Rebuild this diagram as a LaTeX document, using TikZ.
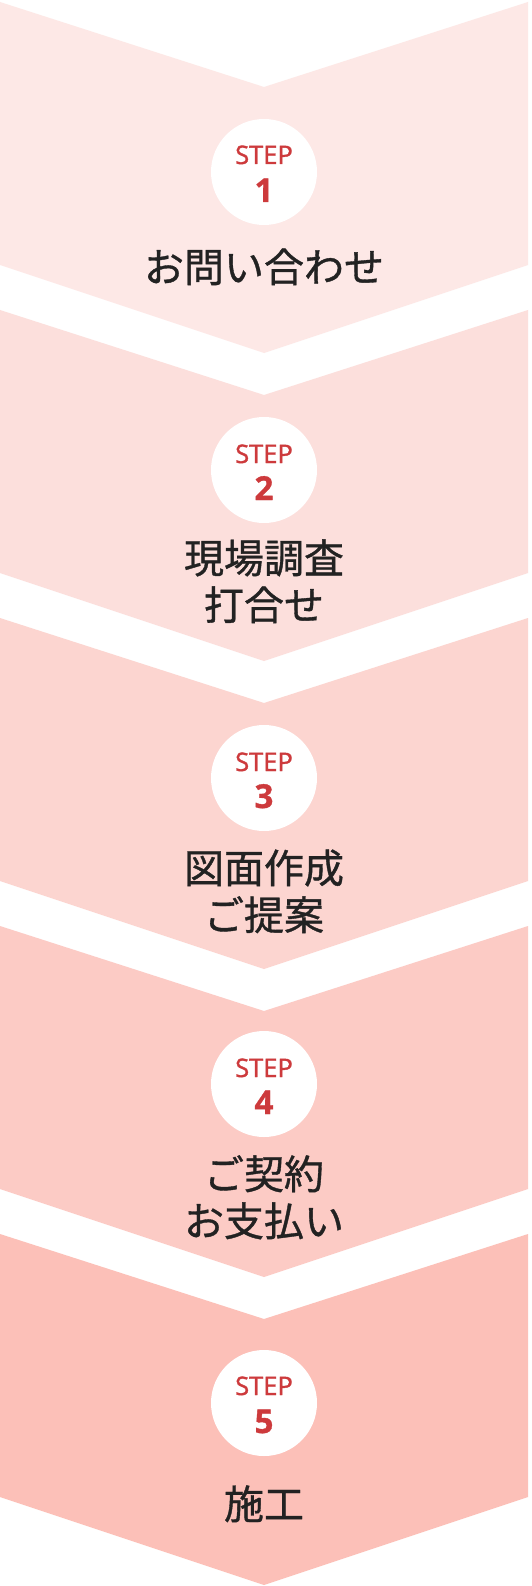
\documentclass[tikz,border=0pt]{standalone}
\usepackage{fontspec}
\setmainfont{Open Sans}
\newfontfamily\jp{Noto Sans CJK JP}[FakeBold=0.9]
\newfontfamily\stepfont{Open Sans}[FakeBold=1.4]
\newfontfamily\numfont{Open Sans}[FakeBold=1]
\definecolor{stepred}{HTML}{CD3A3C}
\definecolor{ink}{HTML}{222222}
\definecolor{pinkA}{RGB}{253,232,230}
\definecolor{pinkB}{RGB}{252,223,220}
\definecolor{pinkC}{RGB}{252,213,208}
\definecolor{pinkD}{RGB}{252,203,197}
\definecolor{pinkE}{RGB}{252,192,184}
\tikzset{
  badge/.style={circle, fill=white, minimum size=106pt, inner sep=0pt},
  steplbl/.style={anchor=base, inner sep=0pt, text=stepred, font=\stepfont\fontsize{25.5}{25}\selectfont},
  stepnum/.style={anchor=base, inner sep=0pt, text=stepred, font=\numfont\bfseries\fontsize{33}{33}\selectfont},
  title/.style={anchor=base, inner sep=0pt, text=ink, font=\jp\fontsize{40}{47}\selectfont}
}
\newcommand{\chev}[2]{%
  \fill[#1] (0,#2) -- (264,#2+85) -- (528,#2) -- (528,#2+263) -- (264,#2+351) -- (0,#2+263) -- cycle;}
\begin{document}
\begin{tikzpicture}[x=1pt,y=-1pt]
\useasboundingbox[fill=white] (0,0) rectangle (532,1586);
\chev{pinkA}{2}
\chev{pinkB}{310}
\chev{pinkC}{618}
\chev{pinkD}{926}
\chev{pinkE}{1234}
% step 1
\node[badge] (c1) at (264,172) {};
\node[steplbl] (s1) at (264,164) {STEP};
\node[stepnum] (n1) at (264,202) {1};
\node[title] (t1) at (264,282) {お問い合わせ};
% step 2
\node[badge] (c2) at (264,470) {};
\node[steplbl] (s2) at (264,463) {STEP};
\node[stepnum] (n2) at (264,500) {2};
\node[title] (t2a) at (264,573) {現場調査};
\node[title] (t2b) at (264,620) {打合せ};
% step 3
\node[badge] (c3) at (264,778) {};
\node[steplbl] (s3) at (264,771) {STEP};
\node[stepnum] (n3) at (264,808) {3};
\node[title] (t3a) at (264,883) {図面作成};
\node[title] (t3b) at (264,930) {ご提案};
% step 4
\node[badge] (c4) at (264,1084) {};
\node[steplbl] (s4) at (264,1077) {STEP};
\node[stepnum] (n4) at (264,1114) {4};
\node[title] (t4a) at (264,1189) {ご契約};
\node[title] (t4b) at (264,1236) {お支払い};
% step 5
\node[badge] (c5) at (264,1403) {};
\node[steplbl] (s5) at (264,1395) {STEP};
\node[stepnum] (n5) at (264,1433) {5};
\node[title] (t5) at (264,1519) {施工};
\end{tikzpicture}
\end{document}
